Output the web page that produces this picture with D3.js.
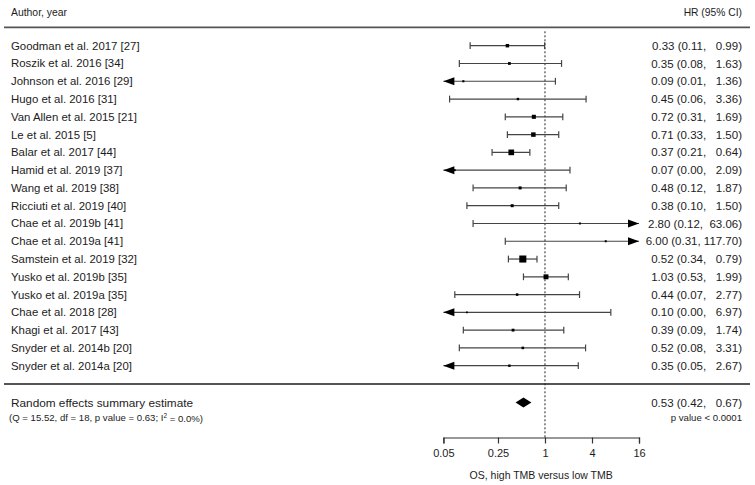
<!DOCTYPE html>
<html><head><meta charset="utf-8">
<script src="https://cdn.jsdelivr.net/npm/d3@7/dist/d3.min.js"></script>
<style>
body{margin:0;background:#fff;}
text{font-family:"Liberation Sans",Arial,sans-serif;fill:#1c1c1c;}
</style></head><body>
<svg id="c" width="755" height="485"></svg>
<script>
const studies = ["Goodman et al. 2017 [27]","Roszik et al. 2016 [34]","Johnson et al. 2016 [29]","Hugo et al. 2016 [31]",
  "Van Allen et al. 2015 [21]","Le et al. 2015 [5]","Balar et al. 2017 [44]","Hamid et al. 2019 [37]",
  "Wang et al. 2019 [38]","Ricciuti et al. 2019 [40]","Chae et al. 2019b [41]","Chae et al. 2019a [41]",
  "Samstein et al. 2019 [32]","Yusko et al. 2019b [35]","Yusko et al. 2019a [35]","Chae et al. 2018 [28]",
  "Khagi et al. 2017 [43]","Snyder et al. 2014b [20]","Snyder et al. 2014a [20]"];
const hr    = [0.33,0.35,0.09,0.45,0.72,0.71,0.37,0.07,0.48,0.38,2.80,6.00,0.52,1.03,0.44,0.10,0.39,0.52,0.35];
const lower = [0.11,0.08,0.01,0.06,0.31,0.33,0.21,0.00,0.12,0.10,0.12,0.31,0.34,0.53,0.07,0.00,0.09,0.08,0.05];
const upper = [0.99,1.63,1.36,3.36,1.69,1.50,0.64,2.09,1.87,1.50,63.06,117.70,0.79,1.99,2.77,6.97,1.74,3.31,2.67];
const summaryLabel = "Random effects summary estimate";
const summaryHR = 0.53, summaryLower = 0.42, summaryUpper = 0.67;
const heterogeneity = {Q:"15.52", df:"18", p:"0.63", I2:"0.0%"};
const pValueText = "p value < 0.0001";
const tickValues = [0.05,0.25,1,4,16];
const tickLabels = ["0.05","0.25","1","4","16"];
const headerLeft = "Author, year", headerRight = "HR (95% CI)";
const axisTitle = "OS, high TMB versus low TMB";

const svg = d3.select("#c");
const x = d3.scaleLog().base(2).domain([0.05,16]).range([443.4,639]);
const y = d3.scalePoint().domain(d3.range(studies.length)).range([45.7,365.7]);
const box = d3.scaleLinear().domain([0,5]).range([1.2,7.45]);
const fmt = d3.format(".2f");
const ciText = (h,l,u)=>`${fmt(h)} (${fmt(l)}, ${fmt(u).padStart(6," ")})`;
const xmin = x.domain()[0], xmax = x.domain()[1];
const yAxis = 437.5, yTopLine = 27.3, ySep = 384, ySum = 402.5;

// headers
svg.append("text").attr("x",11).attr("y",12).attr("dy","0.35em").style("font-size","10.4px").text(headerLeft);
svg.append("text").attr("x",742).attr("y",12).attr("dy","0.35em").attr("text-anchor","end").style("font-size","10.3px").text(headerRight);
svg.append("line").attr("x1",4).attr("x2",750).attr("y1",yTopLine).attr("y2",yTopLine).attr("stroke","#555").attr("stroke-width",1.8);
svg.append("line").attr("x1",4).attr("x2",750).attr("y1",ySep).attr("y2",ySep).attr("stroke","#555").attr("stroke-width",1.8);

// reference line
svg.append("line").attr("x1",x(1)).attr("x2",x(1)).attr("y1",yTopLine+4).attr("y2",yAxis)
  .attr("stroke","#222").attr("stroke-width",1).attr("stroke-dasharray","2,2");

const rows = svg.append("g").selectAll("g").data(studies.map((s,i)=>({s,i,h:hr[i],l:lower[i],u:upper[i]})))
  .join("g").attr("transform",d=>`translate(0,${y(d.i)})`);

rows.append("text").attr("x",11).attr("dy","0.35em").style("font-size","11.4px").text(d=>d.s);
rows.append("text").attr("x",742).attr("dy","0.35em").attr("text-anchor","end")
  .attr("xml:space","preserve").style("white-space","pre").style("font-size","11.5px")
  .text(d=>ciText(d.h,d.l,d.u));

const lx = d=>x(Math.max(d.l,xmin)), ux = d=>x(Math.min(d.u,xmax));
rows.append("line").attr("x1",lx).attr("x2",ux).attr("stroke","#444").attr("stroke-width",1.2);
rows.filter(d=>d.l>xmin).append("line").attr("x1",lx).attr("x2",lx).attr("y1",-3.4).attr("y2",3.4).attr("stroke","#444").attr("stroke-width",1.2);
rows.filter(d=>d.u<xmax).append("line").attr("x1",ux).attr("x2",ux).attr("y1",-3.4).attr("y2",3.4).attr("stroke","#444").attr("stroke-width",1.2);
rows.filter(d=>d.l<=xmin).append("path").attr("fill","#000")
  .attr("d",d=>{const t=x(xmin);return `M${t},0L${t+11},-4L${t+11},4Z`;});
rows.filter(d=>d.u>=xmax).append("path").attr("fill","#000")
  .attr("d",d=>{const t=x(xmax);return `M${t},0L${t-11},-4L${t-11},4Z`;});
rows.append("rect").attr("fill","#000")
  .each(function(d){
    const se = (Math.log(d.u)-Math.log(d.h))/1.96;
    const s = box(1/se);
    d3.select(this).attr("x",x(d.h)-s/2).attr("y",-s/2).attr("width",s).attr("height",s);
  });

// summary
svg.append("text").attr("x",11).attr("y",ySum).attr("dy","0.35em").style("font-size","11.8px").text(summaryLabel);
svg.append("text").attr("x",742).attr("y",ySum).attr("dy","0.35em").attr("text-anchor","end")
  .attr("xml:space","preserve").style("white-space","pre").style("font-size","11.5px")
  .text(ciText(summaryHR,summaryLower,summaryUpper));
svg.append("path").attr("fill","#000")
  .attr("d",`M${x(summaryLower)},${ySum}L${x(summaryHR)},${ySum-5}L${x(summaryUpper)},${ySum}L${x(summaryHR)},${ySum+5}Z`);
const het = svg.append("text").attr("x",9).attr("y",417.5).attr("dy","0.35em").style("font-size","9.6px");
het.append("tspan").text(`(Q = ${heterogeneity.Q}, df = ${heterogeneity.df}, p value = ${heterogeneity.p}; I`);
het.append("tspan").attr("dy","-0.4em").style("font-size","6.5px").text("2");
het.append("tspan").attr("dy","0.4em").text(` = ${heterogeneity.I2})`);
svg.append("text").attr("x",742).attr("y",417.5).attr("dy","0.35em").attr("text-anchor","end").style("font-size","9.6px").text(pValueText);

// axis
const axis = d3.axisBottom(x).tickValues(tickValues).tickFormat((d,i)=>tickLabels[i]).tickSizeOuter(0).tickSize(6).tickPadding(6);
const ag = svg.append("g").attr("transform",`translate(0,${yAxis})`).call(axis);
ag.select(".domain").attr("stroke","#333").attr("stroke-width",1.2);
ag.selectAll(".tick line").attr("stroke","#333").attr("stroke-width",1.2);
ag.selectAll(".tick text").style("font-family","'Liberation Sans',Arial,sans-serif").style("font-size","11px").attr("fill","#1c1c1c");
svg.append("text").attr("x",(x.range()[0]+x.range()[1])/2).attr("y",475).attr("dy","0.35em").attr("text-anchor","middle")
  .style("font-size","10.5px").text(axisTitle);
</script>
</body></html>
